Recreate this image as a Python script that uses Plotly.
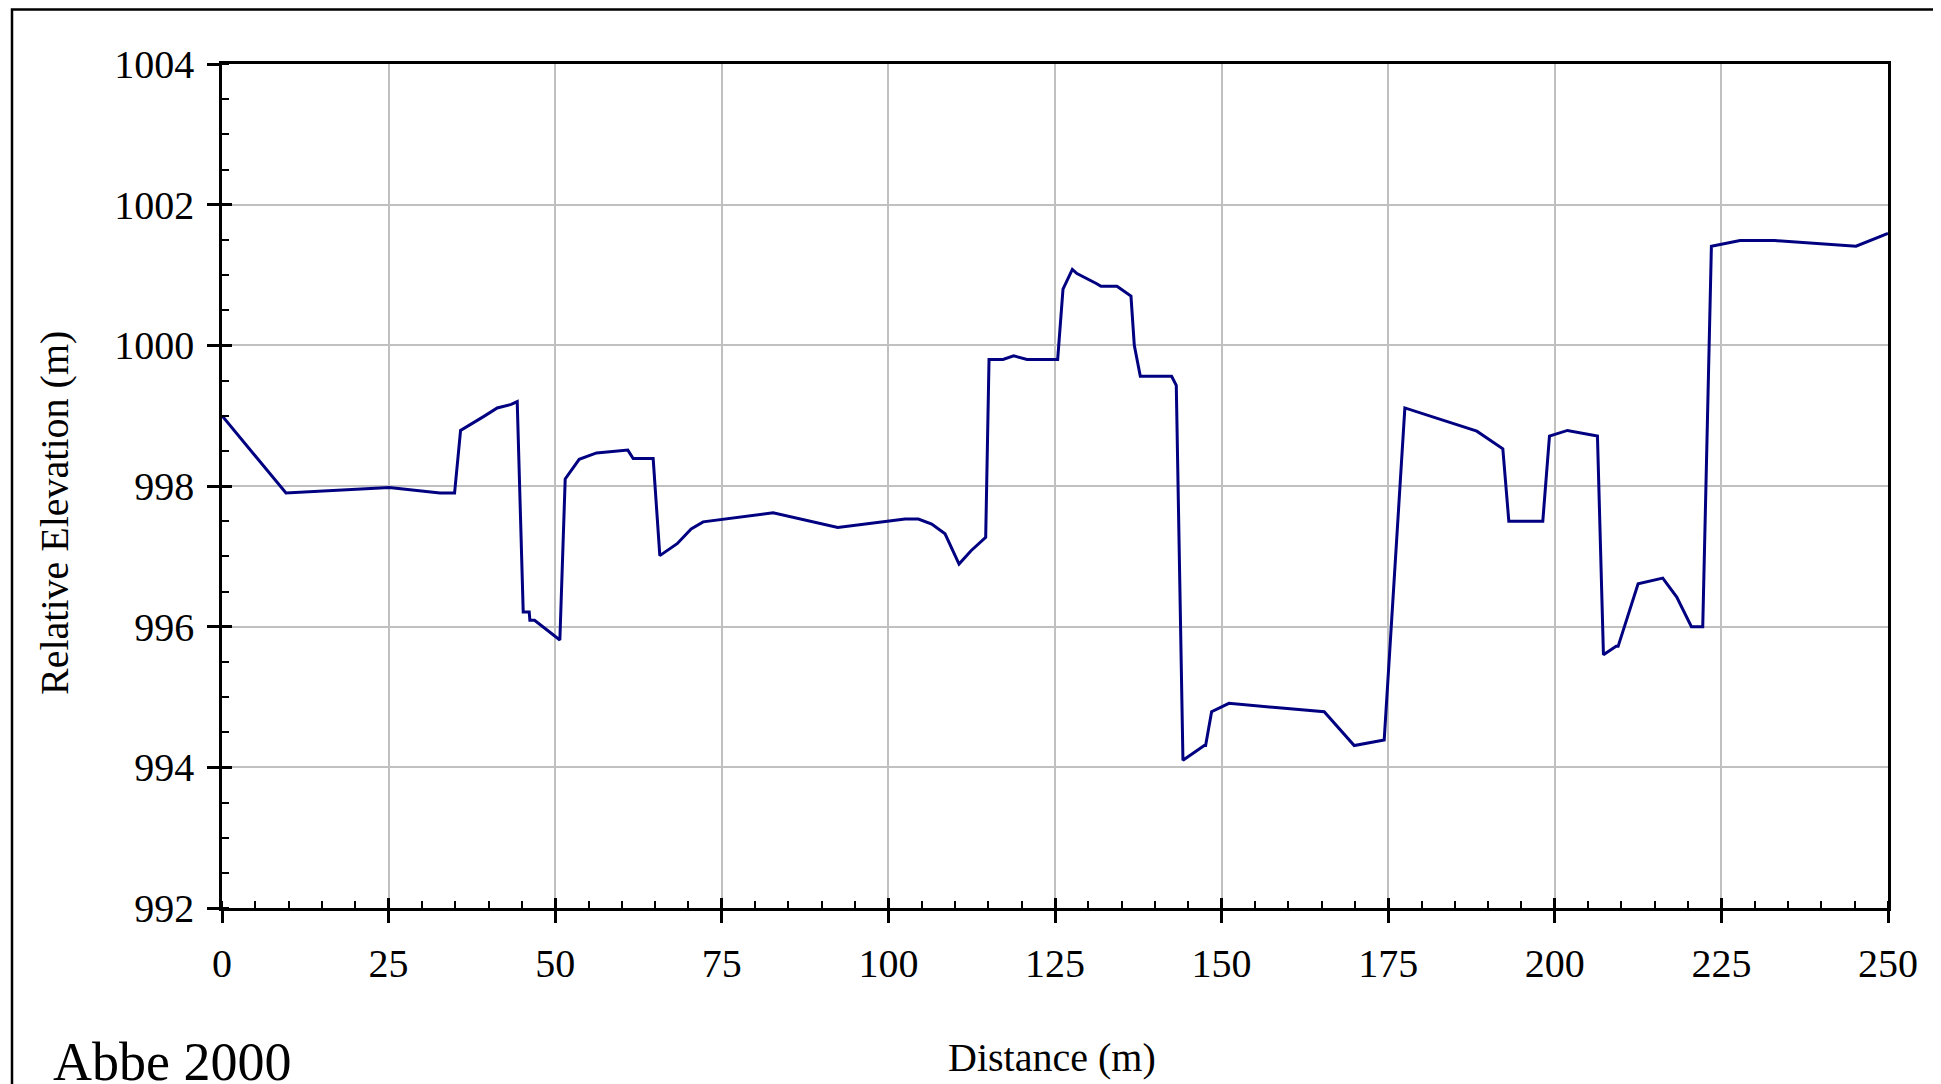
import plotly.graph_objects as go

distance = [0, 9.6, 25.1, 32.7, 34.9, 35.8, 39.3, 41.3, 43.4, 44.3, 45.2, 46.1, 46.2, 46.9,
            50.7, 51.5, 53.6, 56.2, 60.9, 61.7, 64.7, 65.7, 68.3, 70.4, 72.2, 82.7, 92.4,
            102.5, 104.5, 106.5, 108.5, 110.6, 112.4, 114.6, 115.1, 117.2, 118.8, 120.8,
            125.4, 126.2, 127.6, 128.3, 131.2, 131.9, 134.3, 136.4, 136.9, 137.8, 142.5,
            143.2, 144.2, 147.4, 147.6, 148.5, 151.1, 165.4, 169.9, 174.4, 177.5, 188.3,
            192.2, 193.1, 198.2, 199.2, 201.9, 206.4, 207.3, 209.2, 209.5, 212.5, 216.2,
            218.3, 220.5, 222.2, 223.5, 227.8, 233.0, 245.2, 250]
elevation = [999.0, 997.9, 997.98, 997.9, 997.9, 998.79, 998.99, 999.11, 999.16, 999.2,
             996.21, 996.21, 996.09, 996.09, 995.81, 998.1, 998.38, 998.47, 998.51, 998.39,
             998.39, 997.01, 997.18, 997.39, 997.49, 997.62, 997.41, 997.53, 997.53, 997.46,
             997.32, 996.89, 997.08, 997.27, 999.8, 999.8, 999.85, 999.8, 999.8, 1000.8,
             1001.08, 1001.02, 1000.88, 1000.84, 1000.84, 1000.7, 1000.0, 999.56, 999.56,
             999.43, 994.1, 994.31, 994.31, 994.79, 994.91, 994.79, 994.31, 994.39, 999.11,
             998.78, 998.53, 997.5, 997.5, 998.71, 998.79, 998.71, 995.6, 995.72, 995.72,
             996.61, 996.69, 996.42, 996.0, 996.0, 1001.41, 1001.49, 1001.49, 1001.41, 1001.59]

x_ticks = [0, 25, 50, 75, 100, 125, 150, 175, 200, 225, 250]
y_ticks = [992, 994, 996, 998, 1000, 1002, 1004]

x_title = "Distance (m)"
y_title = "Relative Elevation (m)"
caption = "Abbe 2000"

FONT = "Liberation Serif"
W, H = 1941, 1084
OFF = 8  # page body margin offset
# plot area in page pixels: x 222..1888, y 64..908
PL, PR, PT, PB = 222, 1888, 64, 908
L = PL - OFF
T = PT - OFF
R = W - (PR - OFF)
B = H - (PB - OFF)
PW, PH = PR - PL, PB - PT

def px_x(p):
    return (p - PL) / PW

def px_y(p):
    return (PB - p) / PH

fig = go.Figure()
fig.add_trace(go.Scatter(x=distance, y=elevation, mode="lines",
                         line=dict(color="#000080", width=3), hoverinfo="skip",
                         showlegend=False))
# helper trace for the overlay axes (inner halves of the crossing major ticks)
fig.add_trace(go.Scatter(x=distance, y=elevation, mode="lines", xaxis="x2", yaxis="y2",
                         line=dict(color="rgba(0,0,0,0)", width=0), hoverinfo="skip",
                         showlegend=False))

common_font = dict(family=FONT, size=40, color="black")

fig.update_layout(
    width=W, height=H,
    margin=dict(l=L, r=R, t=T, b=B, autoexpand=False),
    paper_bgcolor="white", plot_bgcolor="white",
    showlegend=False,
    xaxis=dict(range=[0, 250], tickmode="array", tickvals=x_ticks,
               ticktext=[str(v) for v in x_ticks], ticks="outside", ticklen=12,
               tickwidth=2.5, tickcolor="black", showline=True, linewidth=2.5,
               linecolor="black", mirror=True, showgrid=True, gridcolor="#c0c0c0",
               gridwidth=2, zeroline=False, tickfont=common_font, ticklabelstandoff=6,
               minor=dict(dtick=5, ticks="inside", ticklen=7, tickwidth=2,
                          tickcolor="black", showgrid=False)),
    yaxis=dict(range=[992, 1004], tickmode="array", tickvals=y_ticks,
               ticktext=[str(v) for v in y_ticks], ticks="outside", ticklen=12,
               tickwidth=2.5, tickcolor="black", showline=True, linewidth=2.5,
               linecolor="black", mirror=True, showgrid=True, gridcolor="#c0c0c0",
               gridwidth=2, zeroline=False, tickfont=common_font, ticklabelstandoff=5,
               minor=dict(dtick=0.5, ticks="inside", ticklen=7, tickwidth=2,
                          tickcolor="black", showgrid=False)),
    xaxis2=dict(range=[0, 250], overlaying="x", anchor="y", side="bottom",
                tickmode="array", tickvals=x_ticks, ticks="inside", ticklen=10,
                tickwidth=2.5, tickcolor="black", showticklabels=False,
                showgrid=False, showline=False, zeroline=False),
    yaxis2=dict(range=[992, 1004], overlaying="y", anchor="x", side="left",
                tickmode="array", tickvals=y_ticks, ticks="inside", ticklen=10,
                tickwidth=2.5, tickcolor="black", showticklabels=False,
                showgrid=False, showline=False, zeroline=False),
    annotations=[
        dict(text=y_title, xref="paper", yref="paper", x=px_x(54), y=px_y(513),
             xanchor="center", yanchor="middle", textangle=-90, showarrow=False,
             font=dict(family=FONT, size=40, color="black")),
        dict(text=x_title, xref="paper", yref="paper", x=px_x(1052), y=px_y(1057),
             xanchor="center", yanchor="middle", showarrow=False,
             font=dict(family=FONT, size=40, color="black")),
        dict(text=caption, xref="paper", yref="paper", x=px_x(51), y=px_y(1062),
             xanchor="left", yanchor="middle", showarrow=False,
             font=dict(family=FONT, size=54, color="black")),
    ],
    shapes=[
        dict(type="rect", xref="paper", yref="paper", x0=px_x(12), x1=px_x(W + 30),
             y0=px_y(H + 30), y1=px_y(OFF + 1.5), line=dict(color="black", width=2.5),
             fillcolor="rgba(0,0,0,0)", layer="above"),
    ],
)

fig.write_html("out.html")
